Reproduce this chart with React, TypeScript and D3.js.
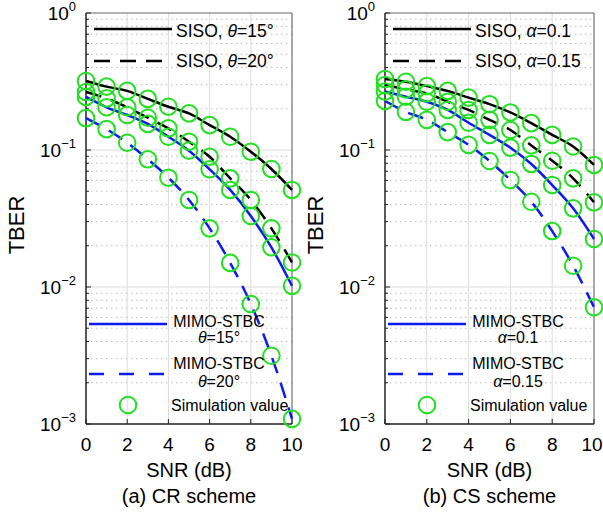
import React from "react";
import * as d3 from "d3";

// SNR (dB) on the x axis, shared by every curve
const snr = [0, 1, 2, 3, 4, 5, 6, 7, 8, 9, 10];

// (a) CR scheme
const crSiso15 = [0.319, 0.29, 0.27, 0.236, 0.207, 0.185, 0.152, 0.125, 0.0972, 0.0727, 0.0511];
const crSiso20 = [0.265, 0.238, 0.205, 0.172, 0.144, 0.115, 0.0893, 0.0621, 0.0432, 0.0268, 0.0151];
const crMimo15 = [0.244, 0.205, 0.18, 0.155, 0.125, 0.0989, 0.0723, 0.0511, 0.033, 0.0195, 0.0102];
const crMimo20 = [0.171, 0.142, 0.113, 0.0855, 0.0628, 0.0432, 0.0268, 0.015, 0.00751, 0.00315, 0.00109];

// (b) CS scheme
const csSiso010 = [0.33, 0.315, 0.293, 0.27, 0.241, 0.216, 0.188, 0.157, 0.129, 0.106, 0.0778];
const csSiso015 = [0.298, 0.277, 0.259, 0.225, 0.196, 0.166, 0.14, 0.108, 0.0835, 0.0621, 0.0415];
const csMimo010 = [0.267, 0.245, 0.225, 0.196, 0.158, 0.129, 0.104, 0.0791, 0.0555, 0.0375, 0.0224];
const csMimo015 = [0.228, 0.19, 0.166, 0.135, 0.109, 0.0831, 0.0604, 0.0419, 0.0256, 0.0143, 0.00711];

const xTicks = [0, 2, 4, 6, 8, 10];
const yExponents = [0, -1, -2, -3];
const minorSteps = [2, 3, 4, 5, 6, 7, 8, 9];

const BLACK = "#000";
const BLUE = "#0d1bf0";
const GREEN = "#22e022";
const FONT = "'Liberation Sans', Arial, sans-serif";

const TOP = 13;
const BOTTOM = 424;

const Panel = ({ left, right, sym, p1, p2, data, caption }) => {
  const x = d3.scaleLinear().domain([0, 10]).range([left, right]);
  const y = d3.scaleLog().domain([1e-3, 1]).range([BOTTOM, TOP]);
  const line = d3
    .line()
    .x((d, i) => x(snr[i]))
    .y((d) => y(d))
    .curve(d3.curveMonotoneX);

  const series = [
    { v: data[0], color: BLACK, dash: null },
    { v: data[1], color: BLACK, dash: "16 10" },
    { v: data[2], color: BLUE, dash: null },
    { v: data[3], color: BLUE, dash: "16 10" },
  ];

  const minors = [];
  [-3, -2, -1].forEach((e) => minorSteps.forEach((k) => minors.push(k * Math.pow(10, e))));
  const cx = (left + right) / 2;
  const param = (val) => (
    <>
      <tspan fontStyle="italic">{sym}</tspan>
      {"=" + val}
    </>
  );

  return (
    <g fontFamily={FONT}>
      {/* grid */}
      {minors.map((m, i) => (
        <line key={"mi" + i} x1={left} x2={right} y1={y(m)} y2={y(m)} stroke="#bdbdbd" strokeDasharray="1.5 3.5" />
      ))}
      {[1e-1, 1e-2].map((m) => (
        <line key={"ma" + m} x1={left} x2={right} y1={y(m)} y2={y(m)} stroke="#dcdcdc" />
      ))}
      {[2, 4, 6, 8].map((t) => (
        <line key={"vx" + t} x1={x(t)} x2={x(t)} y1={TOP} y2={BOTTOM} stroke="#dcdcdc" />
      ))}

      {/* box */}
      <line x1={left} x2={right} y1={TOP} y2={TOP} stroke="#666" />
      <line x1={right} x2={right} y1={TOP} y2={BOTTOM} stroke="#555" />
      <line x1={left} x2={left} y1={TOP} y2={BOTTOM} stroke="#222" strokeWidth={1.5} />
      <line x1={left} x2={right} y1={BOTTOM} y2={BOTTOM} stroke="#222" strokeWidth={1.5} />
      {minors.map((m, i) => (
        <line key={"mt" + i} x1={left} x2={left + 3} y1={y(m)} y2={y(m)} stroke="#222" />
      ))}
      {yExponents.map((e) => (
        <line key={"yt" + e} x1={left} x2={left + 5} y1={y(Math.pow(10, e))} y2={y(Math.pow(10, e))} stroke="#222" />
      ))}
      {xTicks.map((t) => (
        <line key={"xt" + t} x1={x(t)} x2={x(t)} y1={BOTTOM} y2={BOTTOM - 5} stroke="#222" />
      ))}

      {/* tick labels */}
      {xTicks.map((t) => (
        <text key={"xl" + t} x={Math.min(x(t), 592)} y={451} fontSize={19} textAnchor="middle">
          {t}
        </text>
      ))}
      {yExponents.map((e) => (
        <text key={"yl" + e} x={left - 10} y={y(Math.pow(10, e)) + 7} fontSize={19} textAnchor="end">
          10
          <tspan fontSize={13} dy={-9}>
            {e === 0 ? "0" : "\u2212" + -e}
          </tspan>
        </text>
      ))}
      <text transform={`translate(${left - 62},225) rotate(-90)`} fontSize={22} textAnchor="middle">
        TBER
      </text>
      <text x={cx} y={477} fontSize={20} textAnchor="middle">
        SNR (dB)
      </text>
      <text x={cx} y={503} fontSize={20} textAnchor="middle">
        {caption}
      </text>

      {/* curves */}
      {series.map((s, i) => (
        <path key={"c" + i} d={line(s.v)} fill="none" stroke={s.color} strokeWidth={2.5} strokeDasharray={s.dash} />
      ))}
      {series.map((s, i) =>
        s.v.map((v, j) => (
          <circle key={"p" + i + "-" + j} cx={x(snr[j])} cy={y(v)} r={8.3} fill="none" stroke={GREEN} strokeWidth={2} />
        ))
      )}

      {/* upper legend */}
      <line x1={left + 8} x2={left + 86} y1={29} y2={29} stroke={BLACK} strokeWidth={2.5} />
      <text x={left + 90} y={37} fontSize={17.5}>
        SISO, {param(p1)}
      </text>
      <line x1={left + 8} x2={left + 86} y1={61} y2={61} stroke={BLACK} strokeWidth={2.5} strokeDasharray="16 10" />
      <text x={left + 90} y={67} fontSize={17.5}>
        SISO, {param(p2)}
      </text>

      {/* lower legend */}
      <line x1={left + 3} x2={left + 81} y1={324} y2={324} stroke={BLUE} strokeWidth={2.5} />
      <text x={left + 133} y={327} fontSize={16} textAnchor="middle">
        MIMO-STBC
      </text>
      <text x={left + 133} y={343} fontSize={16} textAnchor="middle">
        {param(p1)}
      </text>
      <line x1={left + 3} x2={left + 81} y1={374} y2={374} stroke={BLUE} strokeWidth={2.5} strokeDasharray="15 15" />
      <text x={left + 133} y={369} fontSize={16} textAnchor="middle">
        MIMO-STBC
      </text>
      <text x={left + 133} y={387} fontSize={16} textAnchor="middle">
        {param(p2)}
      </text>
      <circle cx={left + 42} cy={405} r={8.3} fill="none" stroke={GREEN} strokeWidth={2} />
      <text x={left + 85} y={411} fontSize={16}>
        Simulation value
      </text>
    </g>
  );
};

export default function App() {
  return (
    <svg width={603} height={520} style={{ position: "absolute", left: 0, top: 0, background: "#fff" }}>
      <Panel
        left={86}
        right={292}
        sym={"\u03b8"}
        p1={"15\u00b0"}
        p2={"20\u00b0"}
        data={[crSiso15, crSiso20, crMimo15, crMimo20]}
        caption="(a) CR scheme"
      />
      <Panel
        left={385}
        right={594}
        sym={"\u03b1"}
        p1={"0.1"}
        p2={"0.15"}
        data={[csSiso010, csSiso015, csMimo010, csMimo015]}
        caption="(b) CS scheme"
      />
    </svg>
  );
}
